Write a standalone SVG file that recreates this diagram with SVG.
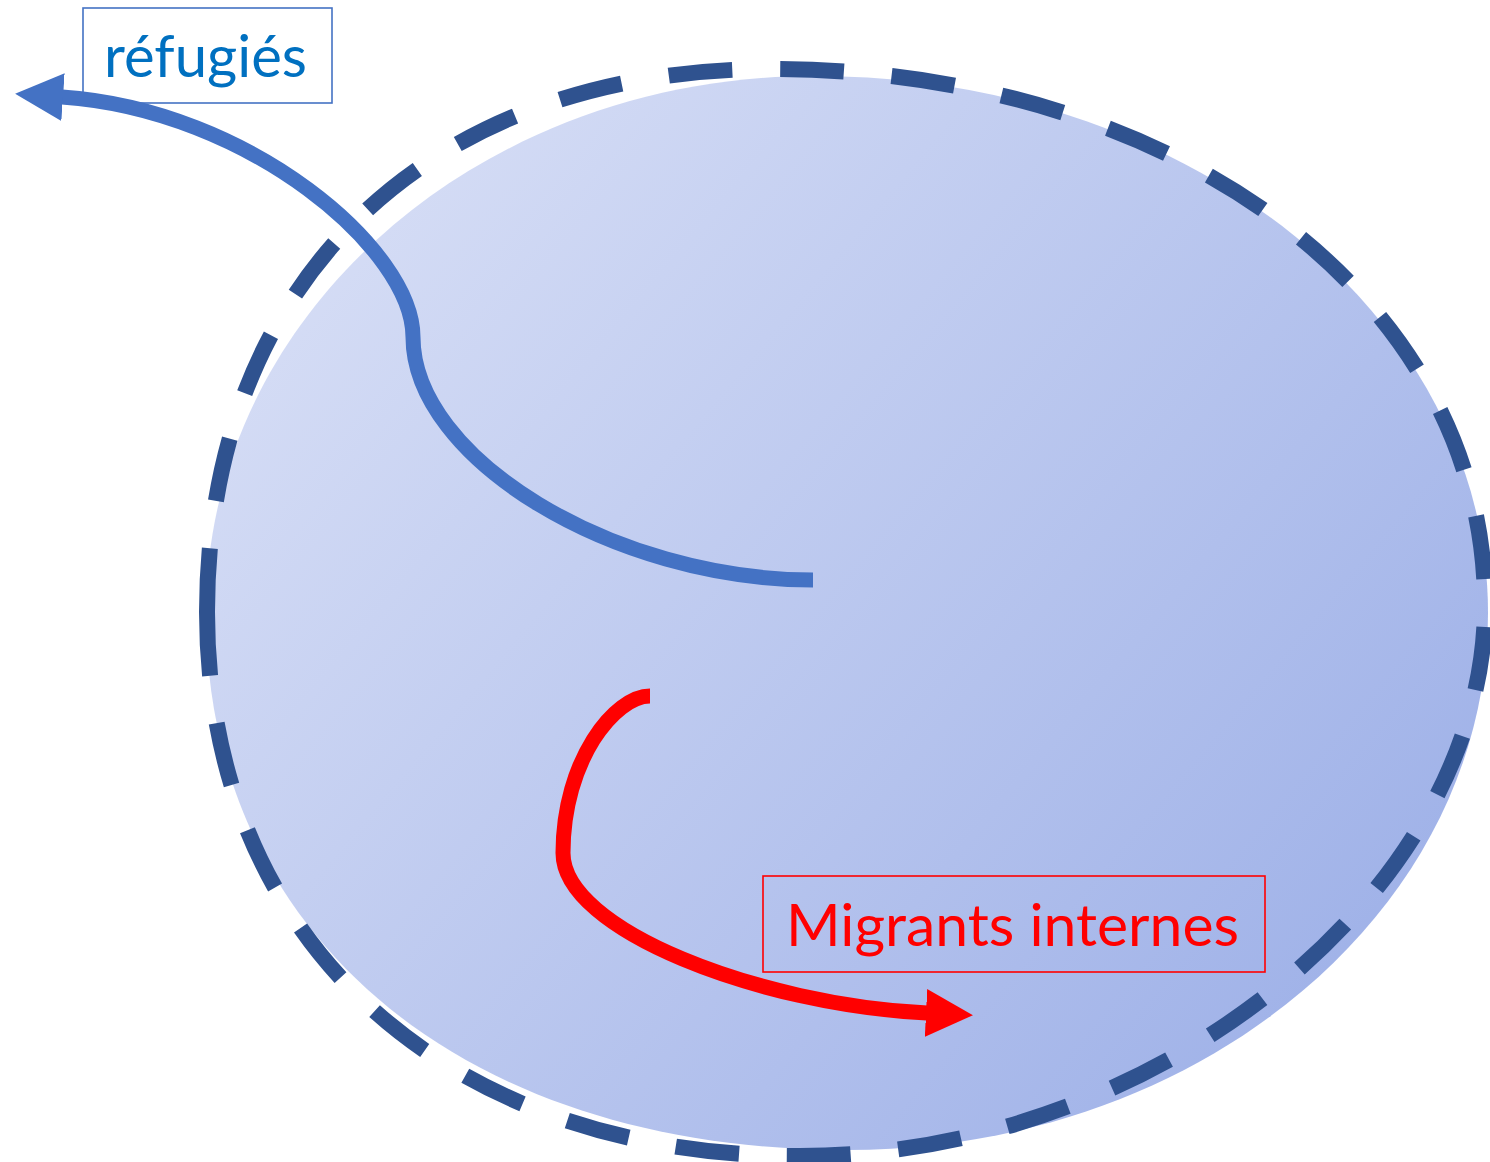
<svg xmlns="http://www.w3.org/2000/svg" width="1490" height="1162" viewBox="0 0 1490 1162">
  <style>
    .lbl { font-family: Lato, "Open Sans", "Liberation Sans", sans-serif; font-size: 59px; }
    .box { stroke-width: 1.6; }
    .flow { fill: none; stroke-width: 15; stroke-linecap: butt; }
  </style>
  <defs>
    <linearGradient id="blobGrad" gradientUnits="userSpaceOnUse" x1="206" y1="76" x2="1488" y2="1150">
      <stop offset="0" stop-color="#dde3f7"/>
      <stop offset="1" stop-color="#97abe6"/>
    </linearGradient>
    <marker id="headBlue" markerUnits="userSpaceOnUse" viewBox="0 -25 50 50" refX="1" refY="0" markerWidth="50" markerHeight="50" orient="auto">
      <path d="M0,-24 L48,0 L0,24 Z" fill="#4472c4"/>
    </marker>
    <marker id="headRed" markerUnits="userSpaceOnUse" viewBox="0 -25 50 50" refX="1" refY="0" markerWidth="50" markerHeight="50" orient="auto">
      <path d="M0,-24 L47,0 L0,24 Z" fill="#ff0000"/>
    </marker>
  </defs>

  <g id="territory">
    <path d="M815,76 C1187,76 1488,316 1488,613 C1488,910 1201,1150 847,1150 C462,1150 206,935 206,613 C206,316 478,76 815,76 Z" fill="url(#blobGrad)"/>
  </g>

  <g id="border">
    <path d="M207,612 C207,940 444,1156 800,1156 C1156,1156 1485,892 1485,605 C1485,299 1178,69 770,69 C427,69 207,282 207,612" pathLength="3760" fill="none" stroke="#2f528f" stroke-width="16" stroke-dasharray="64 48"/>
  </g>

  <g id="label-refugies">
    <rect class="box" x="83" y="8" width="249" height="95" fill="#ffffff" stroke="#4472c4"/>
    <text class="lbl" x="104" y="77" fill="#0070c0" textLength="203" lengthAdjust="spacingAndGlyphs">réfugiés</text>
  </g>

  <g id="connectors">
    <path class="flow" d="M813,580 C613,580 413,458 413,337 C413,250 250,110 62,97" stroke="#4472c4" marker-end="url(#headBlue)"/>
    <path class="flow" d="M650,696 C615,696 563,760 563,853 C563,930 760,1005 927,1013" stroke="#ff0000" marker-end="url(#headRed)"/>
  </g>

  <g id="label-migrants">
    <rect class="box" x="763" y="876" width="502" height="96" fill="none" stroke="#ff0000"/>
    <text class="lbl" x="786" y="946" fill="#ff0000" textLength="453" lengthAdjust="spacingAndGlyphs">Migrants internes</text>
  </g>
</svg>
